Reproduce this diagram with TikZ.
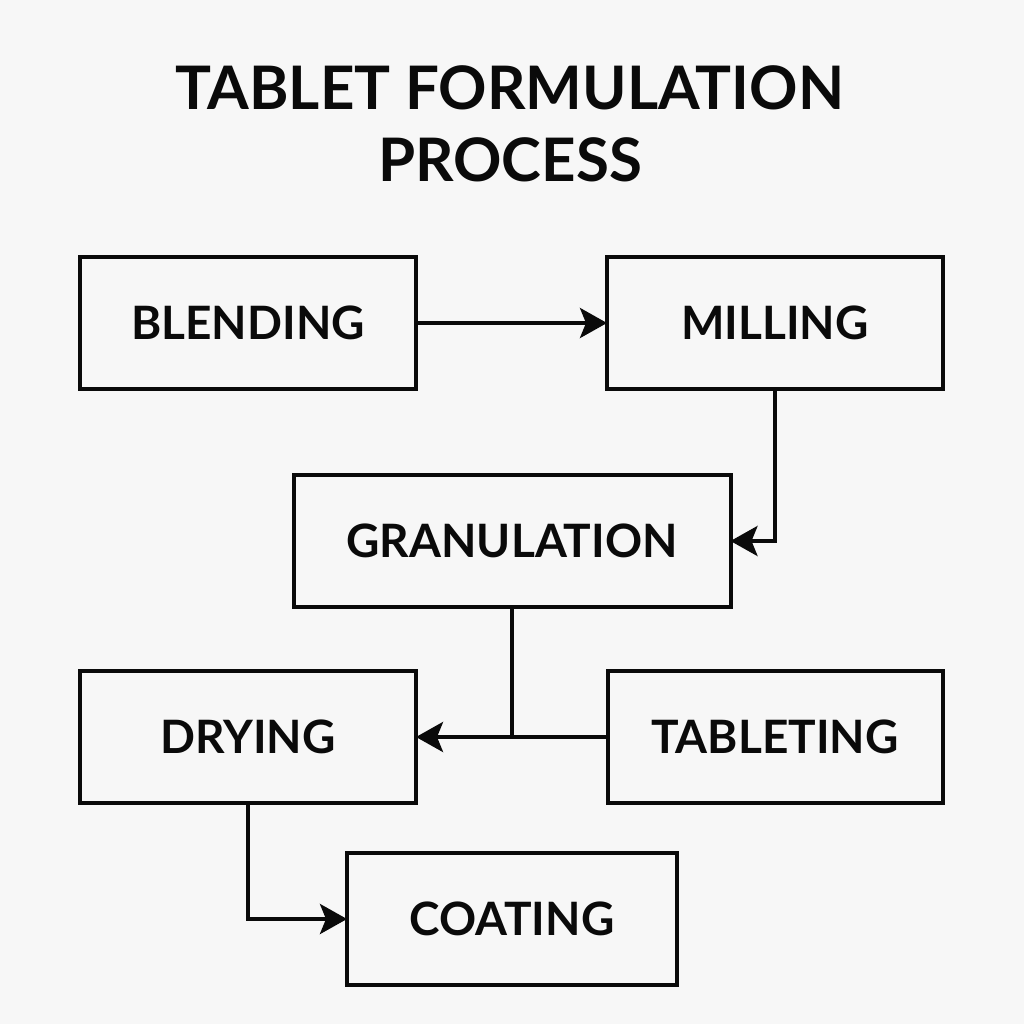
\documentclass[tikz,border=0pt]{standalone}
\usepackage{fontspec}
\setmainfont{Lato}
\usetikzlibrary{arrows.meta,positioning}
\definecolor{paper}{HTML}{F7F7F7}
\definecolor{ink}{HTML}{0A0A0A}
\tikzset{
  stepbox/.style={draw=ink, line width=4pt, minimum height=132pt, inner sep=0pt, font=\fontsize{46}{46}\selectfont\bfseries, text=ink},
  flow/.style={draw=ink, line width=4pt, shorten >=-2pt, -{Stealth[length=27pt,width=30pt,inset=6pt]}},
  plain/.style={draw=ink, line width=4pt}
}
\begin{document}
\begin{tikzpicture}[x=1pt,y=-1pt,every node/.style={text=ink}]
    \useasboundingbox[fill=paper] (0,0) rectangle (1024,1024);
    \node[font=\fontsize{60}{72}\selectfont\bfseries, align=center] (title) at (510,124) {TABLET FORMULATION\\PROCESS};
    \node[stepbox, minimum width=336pt] (blending) at (248,323) {BLENDING};
    \node[stepbox, minimum width=336pt] (milling) at (775,323) {MILLING};
    \node[stepbox, minimum width=437pt] (granulation) at (512,541) {GRANULATION};
    \node[stepbox, minimum width=336pt] (drying) at (248,737) {DRYING};
    \node[stepbox, minimum width=335pt] (tableting) at (775,737) {TABLETING};
    \node[stepbox, minimum width=330pt] (coating) at (512,919) {COATING};
    \coordinate (junction) at (granulation.south |- drying.east);
    \draw[flow] (blending) -- (milling);
    \draw[flow] (milling.south) |- (granulation.east);
    \draw[flow] (tableting.west) -- (drying.east);
    \draw[plain] (granulation.south) -- (junction);
    \draw[flow] (drying.south) |- (coating.west);
\end{tikzpicture}
\end{document}
